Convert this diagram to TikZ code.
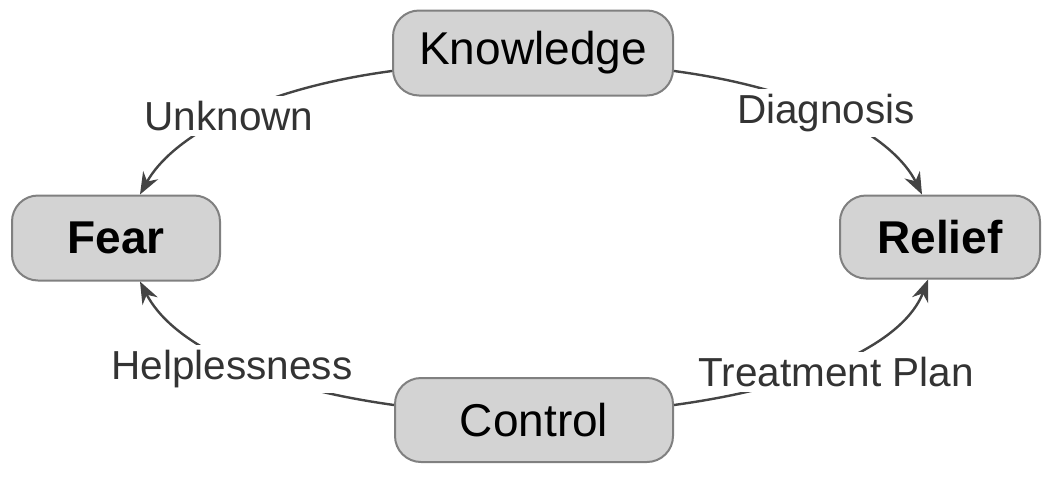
\documentclass[tikz,border=0pt]{standalone}
\usepackage{fontspec}
\setmainfont{Liberation Sans}
\usetikzlibrary{arrows.meta}
\definecolor{boxfill}{HTML}{D3D3D3}
\definecolor{boxline}{HTML}{808080}
\definecolor{linkcol}{HTML}{444444}
\definecolor{labcol}{HTML}{333333}
\tikzset{
  stagebox/.style={draw=boxline, line width=2pt, fill=boxfill, rounded corners=26pt,
    minimum height=85pt, inner sep=0pt, text=black, font=\fontsize{46}{50}\selectfont},
  linklabel/.style={fill=white, inner sep=5pt, text=labcol, font=\fontsize{40.5}{44}\selectfont},
  link/.style={draw=linkcol, line width=2.4pt, -{Stealth[length=22pt,width=17pt]}}
}
\begin{document}
\begin{tikzpicture}[x=1pt,y=-1pt]
\useasboundingbox[fill=white] (0,0) rectangle (1050,480);
\node[stagebox, minimum width=280pt] (K) at (533,53) {Knowledge};
\node[stagebox, minimum width=208pt] (F) at (116,238) {\textbf{Fear}};
\node[stagebox, minimum width=200pt, minimum height=83pt] (R) at (940,237) {\textbf{Relief}};
\node[stagebox, minimum width=278pt, minimum height=84pt] (C) at (534,420) {Control};

\draw[link] ([yshift=-18pt]K.west) .. controls (250,90) and (170,140) .. ([xshift=24pt]F.north);
\draw[link] ([yshift=-18pt]K.east) .. controls (816,90) and (895,140) .. ([xshift=-18pt]R.north);
\draw[link] ([yshift=15pt]C.west) .. controls (250,385) and (170,340) .. ([xshift=24pt]F.south);
\draw[link] ([yshift=15pt]C.east) .. controls (820,385) and (905,340) .. ([xshift=-12pt]R.south);

\node[linklabel] (lu) at (229,116) {Unknown};
\node[linklabel] (ld) at (826,113) {Diagnosis};
\node[linklabel] (lh) at (232,369) {Helplessness};
\node[linklabel] (lt) at (836,372) {Treatment Plan};
\end{tikzpicture}
\end{document}
